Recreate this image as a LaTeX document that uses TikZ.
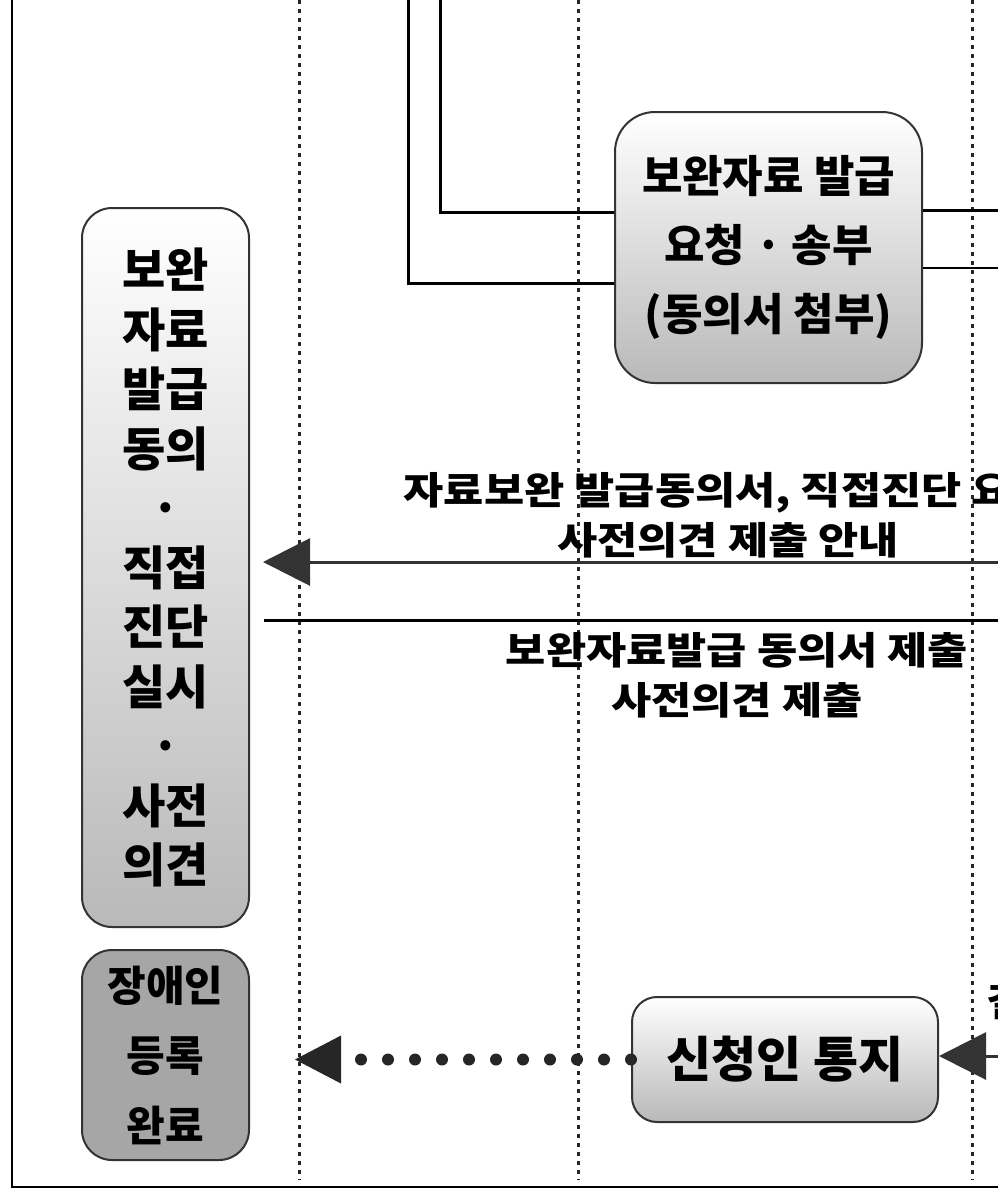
\documentclass[tikz,border=0pt]{standalone}
\usepackage{fontspec}
\setmainfont{Noto Sans CJK KR}
\usetikzlibrary{arrows.meta}
\definecolor{linegray}{HTML}{333333}
\definecolor{donegray}{HTML}{A6A6A6}
\begin{document}
\begin{tikzpicture}[x=1pt,y=-1pt,
  stepbox/.style={draw=linegray,line width=2pt,rounded corners=40pt,
    top color=white,bottom color=gray!55,align=center},
  lane/.style={black!85,line width=3pt,dash pattern=on 3.5pt off 5.5pt},
  flow/.style={line width=3pt},
  back/.style={linegray,line width=3pt,-{Triangle[length=47pt,width=47pt]}},
  msg/.style={align=center,
    font=\bfseries\fontsize{38}{50}\selectfont\addfontfeature{FakeStretch=1.15}}]
  \useasboundingbox (0,0) rectangle (998,1200);
  \clip (0,0) rectangle (998,1200);
  % Lane separators
  \foreach \x in {299,578,972}
    \draw[lane] (\x,0) -- (\x,1180);
  % Outer frame
  \draw[line width=2pt] (12,0) -- (12,1187) -- (998,1187);
  % Boxes
  \node[stepbox,minimum width=307pt,minimum height=271pt,
    font=\bfseries\fontsize{44}{69}\selectfont] (request) at (768.5,247.5)
    {보완자료 발급\\요청 · 송부\\(동의서 첨부)};
  \node[stepbox,rounded corners=30pt,minimum width=167pt,minimum height=719pt,
    font=\bfseries\fontsize{47}{59.5}\selectfont] (consent) at (165.5,567.5)
    {보완\\자료\\발급\\동의\\·\\직접\\진단\\실시\\·\\사전\\의견};
  \node[draw=linegray,line width=2pt,rounded corners=30pt,fill=donegray,
    minimum width=167pt,minimum height=210pt,align=center,
    font=\bfseries\fontsize{42}{70}\selectfont] (done) at (165.5,1055)
    {장애인\\등록\\완료};
  \node[stepbox,rounded corners=25pt,minimum width=306pt,minimum height=125pt,
    font=\bfseries\fontsize{49}{58}\selectfont] (notify) at (785,1059.5)
    {신청인 통지};
  % Lines leaving the request box
  \coordinate (outA) at (408,0);
  \coordinate (outB) at (440,0);
  \coordinate (rightA) at (998,210);
  \coordinate (rightB) at (998,268);
  \draw[flow] (outB) |- ([yshift=35.5pt]request.west);
  \draw[flow] (outA) |- ([yshift=-35.5pt]request.west);
  \draw[flow] (request.east |- rightA) -- (rightA);
  \draw[flow,line width=2.5pt] (request.east |- rightB) -- (rightB);
  % Guide and reply
  \coordinate (guideR) at (998,562);
  \coordinate (replyR) at (998,620);
  \draw[back] (guideR) -- ([xshift=13pt]consent.east |- guideR);
  \draw[flow] ([xshift=14pt]consent.east |- replyR) -- (replyR);
  \node[msg] (guide) at (728,515) {자료보완 발급동의서, 직접진단 요청\\사전의견 제출 안내};
  \node[msg] (reply) at (737,675) {보완자료발급 동의서 제출\\사전의견 제출};
  % Notice to applicant
  \coordinate (resultR) at (998,1056);
  \draw[back] (resultR) -- (notify.east |- resultR);
  \node[msg,anchor=west,inner sep=0pt] (result) at (986,1002) {결과 통보};
  \draw[black!85,line width=12pt,line cap=round,dash pattern=on 0pt off 27pt,
    -{Triangle[length=46pt,width=48pt,line width=0pt]}]
    (notify.west) -- ([xshift=45pt]done.east |- notify.west);
\end{tikzpicture}
\end{document}
